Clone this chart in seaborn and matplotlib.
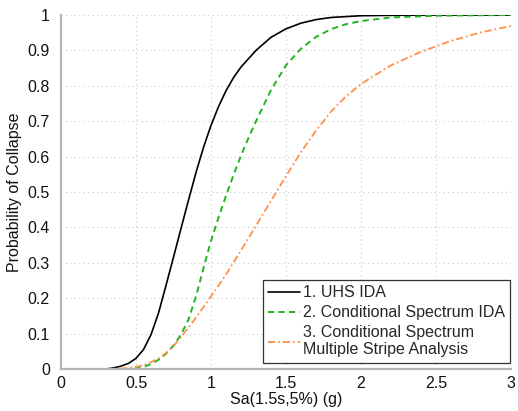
import matplotlib
matplotlib.use("Agg")
import matplotlib.pyplot as plt
import seaborn as sns
import numpy as np
from matplotlib.ticker import FuncFormatter

# ---- data ----
uhs_x = [0, 0.30, 0.35, 0.40, 0.45, 0.50, 0.55, 0.60, 0.65, 0.70, 0.75, 0.80, 0.85, 0.90,
         0.95, 1.00, 1.05, 1.10, 1.15, 1.20, 1.30, 1.40, 1.50, 1.60, 1.70, 1.80, 2.00,
         2.20, 2.50, 3.00]
uhs_y = [0, 0, 0.003, 0.008, 0.016, 0.03, 0.055, 0.097, 0.158, 0.236, 0.316, 0.397, 0.477,
         0.555, 0.626, 0.688, 0.741, 0.786, 0.823, 0.853, 0.90, 0.937, 0.961, 0.977, 0.987,
         0.993, 0.998, 0.999, 1.0, 1.0]

cs_x = [0, 0.45, 0.50, 0.55, 0.60, 0.65, 0.70, 0.75, 0.80, 0.85, 0.90, 0.95, 1.00, 1.05,
        1.10, 1.15, 1.20, 1.25, 1.30, 1.40, 1.50, 1.60, 1.70, 1.80, 1.90, 2.00, 2.20,
        2.50, 3.00]
cs_y = [0, 0, 0.002, 0.006, 0.014, 0.026, 0.043, 0.066, 0.097, 0.14, 0.205, 0.285, 0.362,
        0.428, 0.489, 0.548, 0.603, 0.653, 0.70, 0.788, 0.858, 0.905, 0.938, 0.96, 0.974,
        0.983, 0.993, 0.998, 1.0]

msa_x = [0, 0.35, 0.40, 0.45, 0.50, 0.55, 0.60, 0.65, 0.70, 0.75, 0.80, 0.90, 1.00, 1.10,
         1.20, 1.30, 1.40, 1.50, 1.60, 1.70, 1.80, 1.90, 2.00, 2.20, 2.40, 2.60, 2.80, 3.00]
msa_y = [0, 0, 0.001, 0.003, 0.006, 0.011, 0.019, 0.03, 0.045, 0.065, 0.09, 0.145, 0.205,
         0.267, 0.335, 0.405, 0.475, 0.545, 0.613, 0.673, 0.727, 0.77, 0.805, 0.858,
         0.896, 0.927, 0.951, 0.969]

labels = ["1. UHS IDA", "2. Conditional Spectrum IDA",
          "3. Conditional Spectrum\nMultiple Stripe Analysis"]
x_ticks = [0, 0.5, 1, 1.5, 2, 2.5, 3]
y_ticks = [0, 0.1, 0.2, 0.3, 0.4, 0.5, 0.6, 0.7, 0.8, 0.9, 1.0]

# ---- style ----
sns.set_style("white")
plt.rcParams['font.family'] = ['Liberation Sans', 'DejaVu Sans']

fig = plt.figure(figsize=(5.18, 4.11), dpi=100)
ax = fig.add_axes([61/518, 1 - 369/411, 450/518, 354/411])

sns.lineplot(x=uhs_x, y=uhs_y, ax=ax, color="black", linewidth=1.2,
             linestyle="-", label=labels[0])
sns.lineplot(x=cs_x, y=cs_y, ax=ax, color="#1fb51f", linewidth=1.4,
             linestyle=(0, (3.2, 2.2)), label=labels[1])
sns.lineplot(x=msa_x, y=msa_y, ax=ax, color="#ff8f4a", linewidth=1.3,
             linestyle=(0, (4, 1.6, 1, 1.6)), label=labels[2])

ax.set_xlim(0, 3)
ax.set_ylim(0, 1)
ax.set_xticks(x_ticks)
ax.set_yticks(y_ticks)
fmt = FuncFormatter(lambda v, p: f"{v:g}")
ax.xaxis.set_major_formatter(fmt)
ax.yaxis.set_major_formatter(fmt)
ax.tick_params(axis='both', labelsize=11.5, direction='in', length=3,
               color='#999999', labelcolor='#111111')
ax.tick_params(axis='y', pad=8)
ax.tick_params(axis='x', pad=5)

ax.grid(True, linestyle=(0, (1, 3)), color='#c8c8c8', linewidth=0.8)
ax.set_axisbelow(True)
for s in ['top', 'right']:
    ax.spines[s].set_visible(False)
for s in ['left', 'bottom']:
    ax.spines[s].set_color('#b5b5b5')
    ax.spines[s].set_linewidth(1.6)

ax.set_xlabel("Sa(1.5s,5%) (g)", fontsize=11.5, color='#111111', labelpad=1)
ax.set_ylabel("Probability of Collapse", fontsize=11.5, color='#111111', labelpad=4)

leg = ax.legend(loc='lower right', bbox_to_anchor=(0.998, 0.017), fontsize=11.5,
                frameon=True, fancybox=False, framealpha=1, edgecolor='#333333',
                handlelength=2.0, handletextpad=0.15, borderpad=0.35,
                labelspacing=0.3, borderaxespad=0)
leg.get_frame().set_linewidth(0.9)
for t in leg.get_texts():
    t.set_multialignment('left')

fig.savefig("out.png", dpi=100)
